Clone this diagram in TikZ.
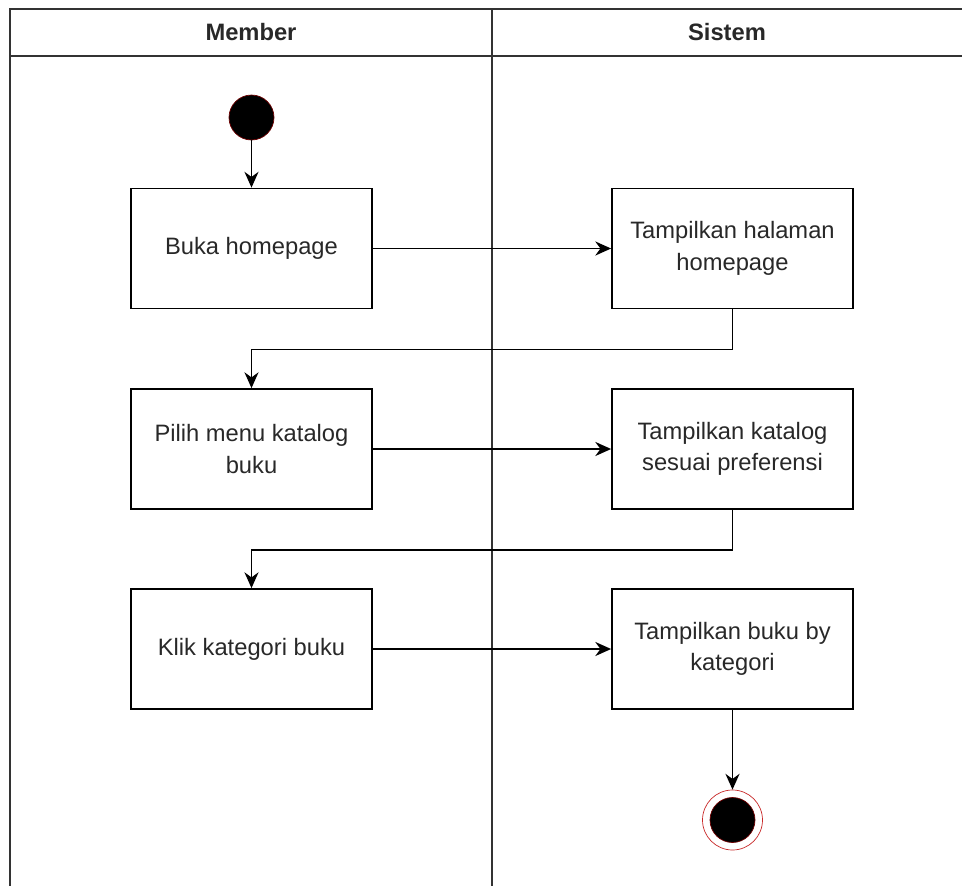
\documentclass[tikz,border=0pt]{standalone}
\usepackage{fontspec}
\setmainfont{Liberation Sans}
\usetikzlibrary{arrows.meta,positioning}
\definecolor{startred}{RGB}{110,0,0}
\definecolor{endred}{RGB}{200,40,40}
\definecolor{labeltext}{RGB}{40,40,40}
\tikzset{
  action/.style={draw,line width=1pt,fill=white,minimum width=4.82cm,minimum height=2.4cm,align=center,text=labeltext,font=\fontsize{13.5}{18}\selectfont},
  flow/.style={line width=1pt,-{Stealth[length=9pt,width=8pt]}},
  lane/.style={draw=black!80,line width=1pt},
  lanetitle/.style={font=\bfseries\fontsize{13.5}{16}\selectfont,text=labeltext}
}
\begin{document}
\begin{tikzpicture}
                \useasboundingbox[fill=white] (0,0) rectangle (19.24,-17.72);
                % swimlanes
                \draw[lane] (19.24,-0.18) -- (0.2,-0.18) -- (0.2,-17.72);
                \draw[lane] (0.2,-1.12) -- (19.24,-1.12);
                \draw[lane] (9.84,-0.18) -- (9.84,-17.72);
                \node[lanetitle] (member) at (5.02,-0.65) {Member};
                \node[lanetitle] (sistem) at (14.54,-0.65) {Sistem};
                % start and end
                \node[draw=startred,fill=black,circle,inner sep=0pt,minimum size=0.9cm] (start) at (5.03,-2.35) {};
                \node[draw=endred,circle,inner sep=0pt,minimum size=1.2cm] (stop) at (14.65,-16.4) {};
                \node[fill=black,draw=startred,circle,inner sep=0pt,minimum size=0.9cm] (stopdot) at (stop) {};
                % actions
                \node[action] (buka) at (5.03,-4.97) {Buka homepage};
                \node[action] (halaman) at (14.65,-4.97) {Tampilkan halaman\\homepage};
                \node[action] (menu) at (5.03,-8.98) {Pilih menu katalog\\buku};
                \node[action] (katalog) at (14.65,-8.98) {Tampilkan katalog\\sesuai preferensi};
                \node[action] (kategori) at (5.03,-12.98) {Klik kategori buku};
                \node[action] (bukuby) at (14.65,-12.98) {Tampilkan buku by\\kategori};
                % flows
                \draw[flow] (start) -- (buka);
                \draw[flow] (buka) -- (halaman);
                \draw[flow] (halaman.south) -- ++(0,-0.8) -| (menu.north);
                \draw[flow] (menu) -- (katalog);
                \draw[flow] (katalog.south) -- ++(0,-0.8) -| (kategori.north);
                \draw[flow] (kategori) -- (bukuby);
                \draw[flow] (bukuby) -- (stop);
            \end{tikzpicture}
\end{document}
